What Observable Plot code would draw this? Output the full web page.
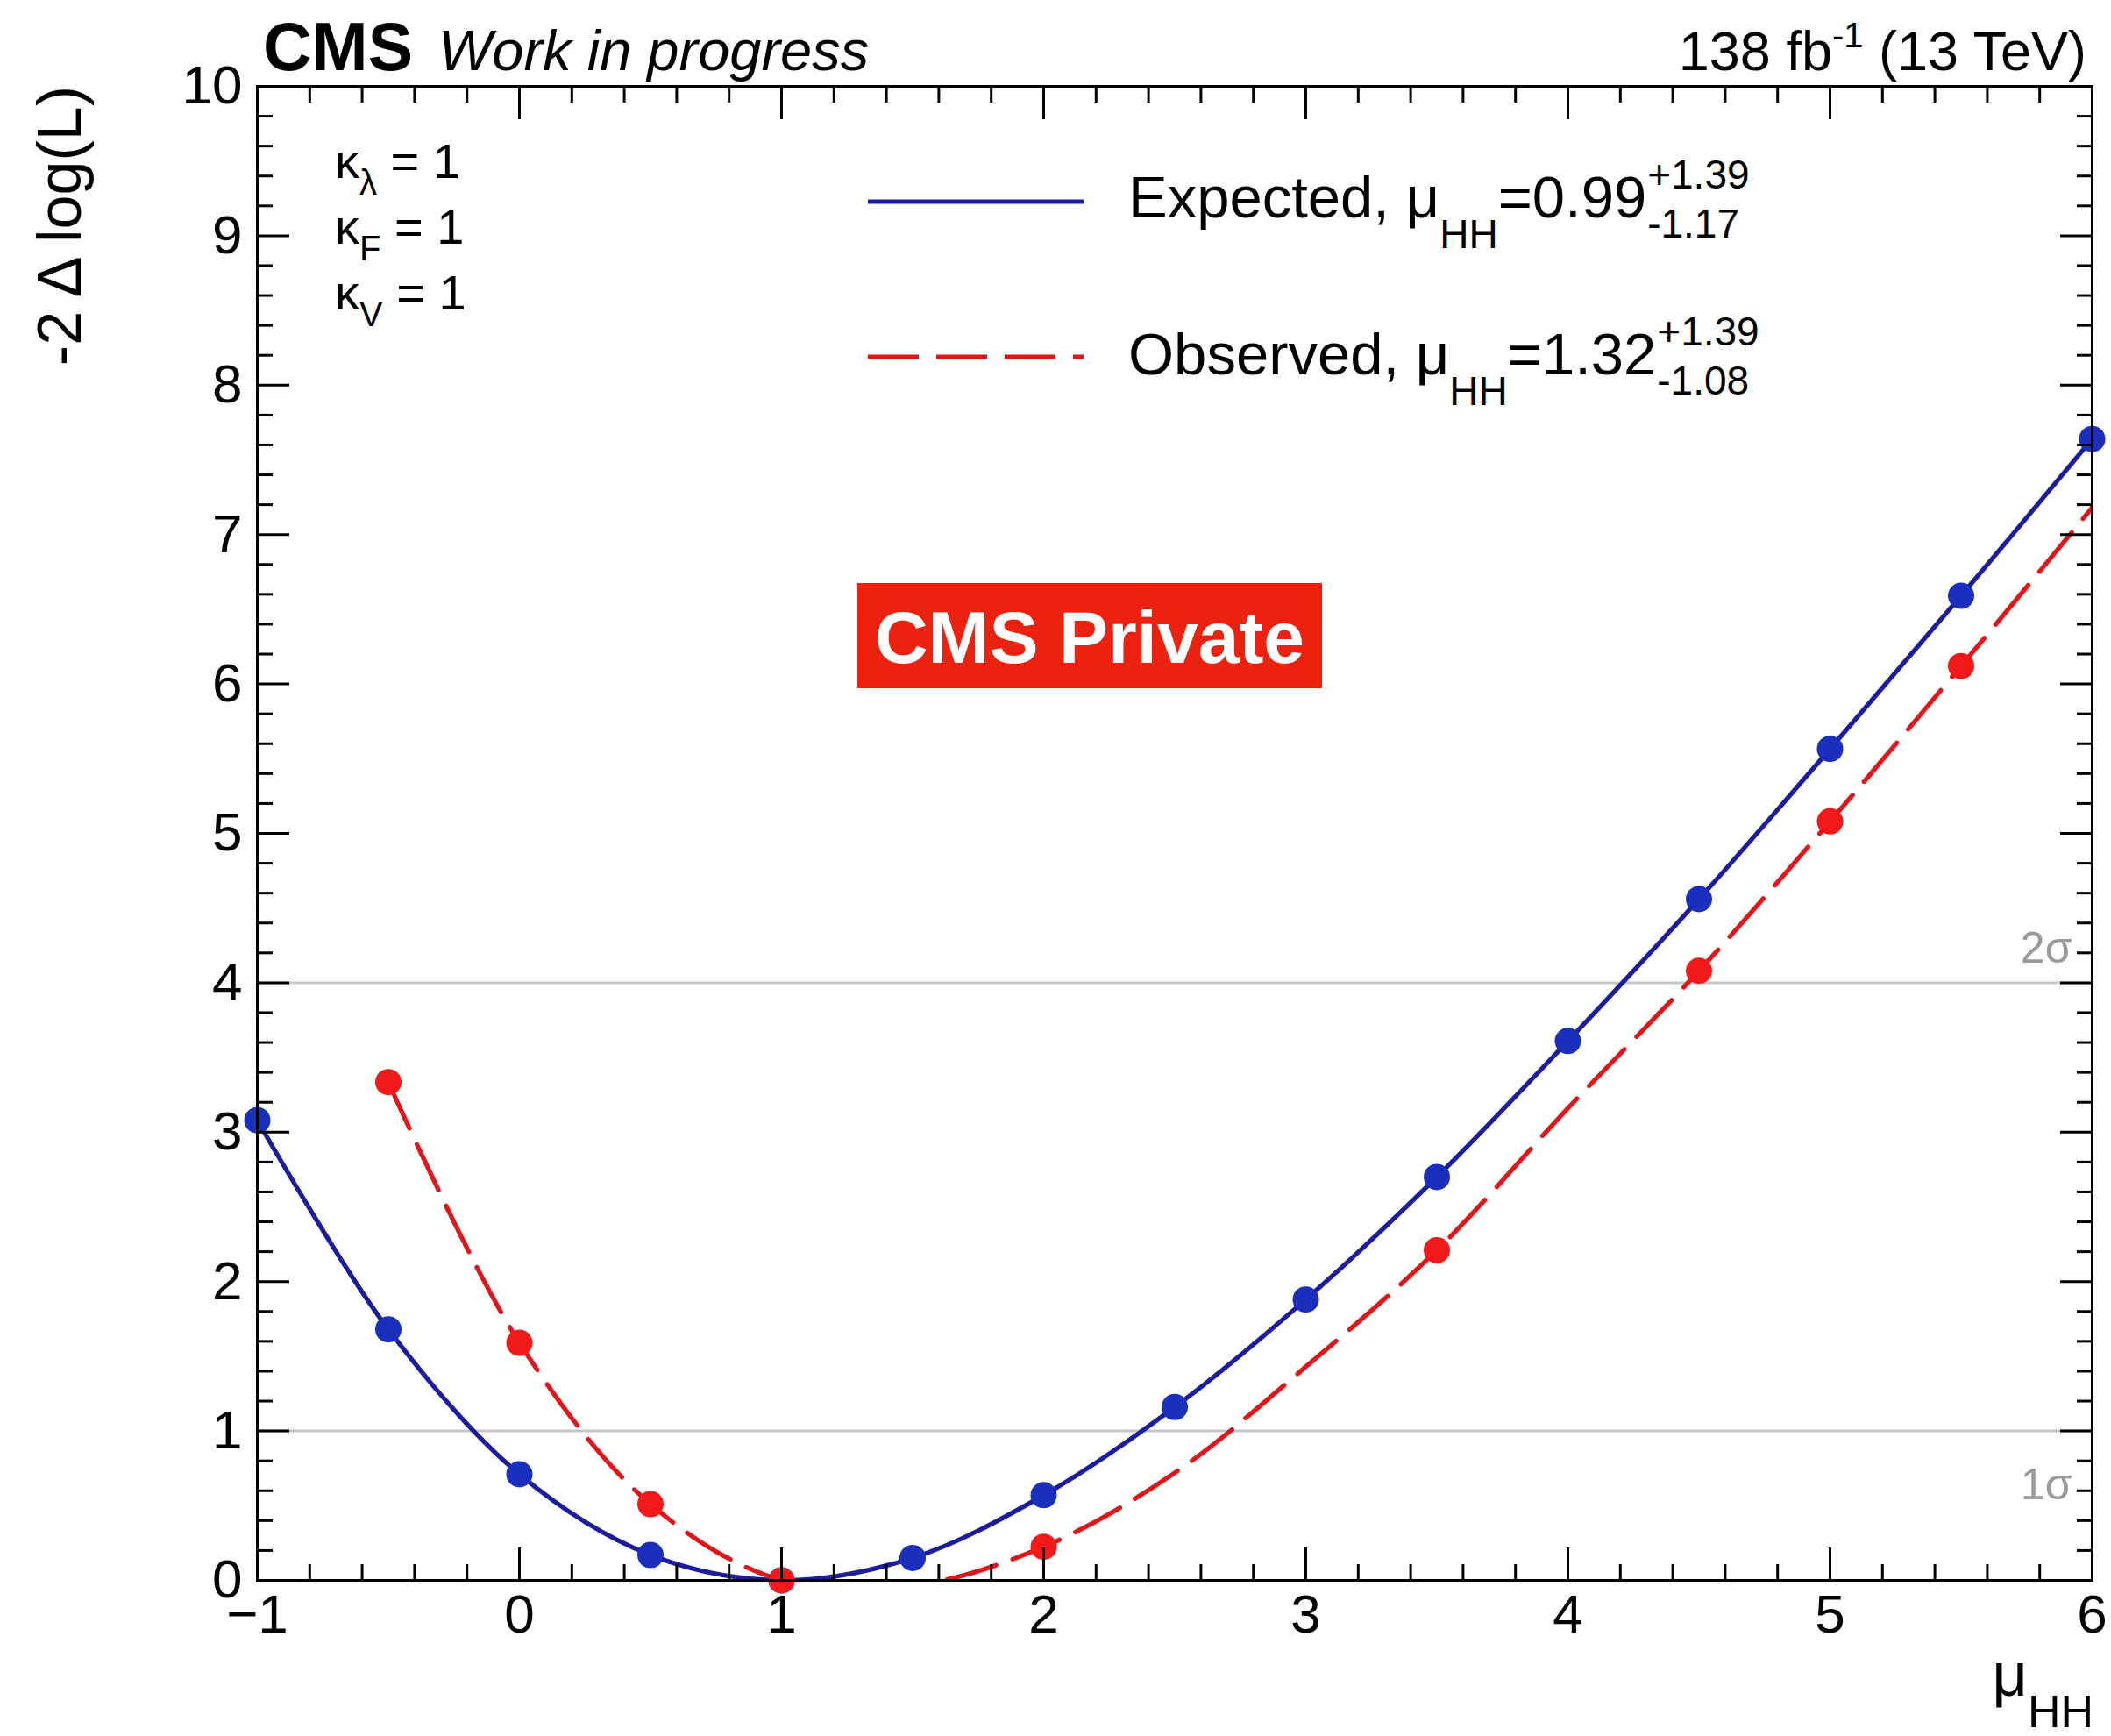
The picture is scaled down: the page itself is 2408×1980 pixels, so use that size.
<!DOCTYPE html>
<html>
<head>
<meta charset="utf-8">
<script src="https://cdn.jsdelivr.net/npm/d3@7"></script>
<script src="https://cdn.jsdelivr.net/npm/@observablehq/plot@0.6"></script>
<style>
  html, body { margin: 0; padding: 0; background: #fff; }
  #chart svg { display: block; }
</style>
</head>
<body>
<div id="chart"></div>
<script>
// Profile-likelihood scan of the HH signal strength, expected vs observed.
const muExpected = [-1, -0.5, 0, 0.5, 1, 1.5, 2, 2.5, 3, 3.5, 4, 4.5, 5, 5.5, 6];
const nllExpected = [3.08, 1.68, 0.71, 0.17, 0.0, 0.15, 0.57, 1.16, 1.88, 2.70, 3.61, 4.56, 5.565, 6.59, 7.64];

const muObserved = [-0.5, 0, 0.5, 1, 1.5, 2, 2.5, 3, 3.5, 4, 4.5, 5, 5.5, 6];
const nllObserved = [3.335, 1.59, 0.51, 0.0, -0.035, 0.225, 0.72, 1.43, 2.21, 3.16, 4.08, 5.08, 6.12, 7.18];
// scan points that carry a marker in the observed curve
const markedObserved = [true, true, true, true, false, true, false, false, true, false, true, true, true, false];

const sigmaLevels = [1, 4];
const sigmaLabels = ["1σ", "2σ"];

const xTicks = [-1, 0, 1, 2, 3, 4, 5, 6];
const yTicks = [0, 1, 2, 3, 4, 5, 6, 7, 8, 9, 10];
const xMinor = d3.range(-10, 61, 2).map(v => v / 10).filter(v => !Number.isInteger(v));
const yMinor = d3.range(0, 101, 2).map(v => v / 10).filter(v => !Number.isInteger(v));

const expected = muExpected.map((mu, i) => ({mu, nll: nllExpected[i]}));
const observed = muObserved.map((mu, i) => ({mu, nll: nllObserved[i], marked: markedObserved[i]}));

const FONT = "'Liberation Sans', Arial, Helvetica, sans-serif";
const BLUE_LINE = "#1b1d9e";
const BLUE_DOT = "#1a2fbb";
const RED_LINE = "#e0161a";
const RED_DOT = "#f01a1a";
const DASH = "58,20";
const LINE_W = 5.2;

const W = 2408, H = 1980;
const M = {top: 98, right: 22, bottom: 178, left: 293};

const majorTick = 37, minorTick = 18, tickW = 3;

const plot = Plot.plot({
  width: W,
  height: H,
  marginTop: M.top,
  marginRight: M.right,
  marginBottom: M.bottom,
  marginLeft: M.left,
  style: {fontFamily: FONT, background: "#fff", color: "#000"},
  x: {domain: [-1, 6], axis: null},
  y: {domain: [0, 10], axis: null},
  marks: [
    Plot.ruleY(sigmaLevels, {stroke: "#c6c6c6", strokeWidth: 3}),
    Plot.text(sigmaLevels.slice(0, 1), {x: () => 6, y: d => d, text: () => sigmaLabels[0], dx: -23, dy: 62, textAnchor: "end", fill: "#9a9a9a", fontSize: 50}),
    Plot.text(sigmaLevels.slice(1, 2), {x: () => 6, y: d => d, text: () => sigmaLabels[1], dx: -23, dy: -39, textAnchor: "end", fill: "#9a9a9a", fontSize: 50}),
    Plot.line(expected, {x: "mu", y: "nll", curve: "catmull-rom", stroke: BLUE_LINE, strokeWidth: LINE_W, clip: true}),
    Plot.line(observed, {x: "mu", y: "nll", curve: "catmull-rom", stroke: RED_LINE, strokeWidth: LINE_W, strokeDasharray: DASH, clip: true}),
    Plot.dot(expected, {x: "mu", y: "nll", r: 15, fill: BLUE_DOT, stroke: "none"}),
    Plot.dot(observed.filter(d => d.marked), {x: "mu", y: "nll", r: 15, fill: RED_DOT, stroke: "none"}),
    Plot.frame({stroke: "#000", strokeWidth: 3}),
    // inward ticks on all four sides
    Plot.axisX({anchor: "bottom", ticks: xTicks, tickSize: -majorTick, fill: "none", strokeWidth: tickW, label: null}),
    Plot.axisX({anchor: "bottom", ticks: xMinor, tickSize: -minorTick, fill: "none", strokeWidth: tickW, label: null}),
    Plot.axisX({anchor: "top", ticks: xTicks, tickSize: -majorTick, fill: "none", strokeWidth: tickW, label: null}),
    Plot.axisX({anchor: "top", ticks: xMinor, tickSize: -minorTick, fill: "none", strokeWidth: tickW, label: null}),
    Plot.axisY({anchor: "left", ticks: yTicks, tickSize: -majorTick, fill: "none", strokeWidth: tickW, label: null}),
    Plot.axisY({anchor: "left", ticks: yMinor, tickSize: -minorTick, fill: "none", strokeWidth: tickW, label: null}),
    Plot.axisY({anchor: "right", ticks: yTicks, tickSize: -majorTick, fill: "none", strokeWidth: tickW, label: null}),
    Plot.axisY({anchor: "right", ticks: yMinor, tickSize: -minorTick, fill: "none", strokeWidth: tickW, label: null}),
    // tick labels
    Plot.axisX({anchor: "bottom", ticks: xTicks, tickSize: 0, tickPadding: 15, fontSize: 62, label: null,
      tickFormat: d => d < 0 ? "\u2212" + (-d) : String(d)}),
    Plot.axisY({anchor: "left", ticks: yTicks, tickSize: 0, tickPadding: 17, fontSize: 62, label: null,
      tickFormat: d => String(d)})
  ]
});

document.getElementById("chart").appendChild(plot);

const svg = d3.select(plot);
const g = svg.append("g").attr("font-family", FONT).attr("fill", "#000");

// Rich text: parts are [text, fontSize, baselineOffset]
function rich(x, y, parts, anchor = "start", attrs = {}) {
  const t = g.append("text").attr("x", x).attr("y", y).attr("text-anchor", anchor);
  for (const [k, v] of Object.entries(attrs)) t.attr(k, v);
  let cur = 0;
  for (const [txt, size, off] of parts) {
    t.append("tspan").attr("font-size", size).attr("dy", (off || 0) - cur).text(txt);
    cur = off || 0;
  }
  return t;
}

// header
rich(300, 80, [["CMS", 77, 0]], "start", {"font-weight": "bold"});
rich(500, 80, [["Work in progress", 65, 0]], "start", {"font-style": "italic"});
rich(2380, 80, [["138 fb", 63, 0], ["-1", 40, -26], [" (13 TeV)", 63, 0]], "end");

// axis titles
g.append("text")
  .attr("transform", "translate(92,98) rotate(-90)")
  .attr("text-anchor", "end")
  .attr("font-size", 70)
  .text("-2 \u0394 log(L)");
rich(2388, 1934, [["\u03bc", 70, 0], ["HH", 52, 36]], "end");

// coupling assumptions
const couplings = [["\u03bb", 203], ["F", 278], ["V", 353]];
for (const [sub, base] of couplings) {
  rich(382, base, [["\u03ba", 56, 0], [sub, 40, 19], [" = 1", 56, 0]]);
}

// legend
const legendEntries = [
  {label: "Expected, ", best: "=0.99", up: "+1.39", down: "-1.17", y: 248, lineY: 230, color: BLUE_LINE, dash: null},
  {label: "Observed, ", best: "=1.32", up: "+1.39", down: "-1.08", y: 427, lineY: 407, color: RED_LINE, dash: DASH}
];
for (const e of legendEntries) {
  const ln = g.append("line")
    .attr("x1", 990).attr("x2", 1236)
    .attr("y1", e.lineY).attr("y2", e.lineY)
    .attr("stroke", e.color).attr("stroke-width", LINE_W);
  if (e.dash) ln.attr("stroke-dasharray", e.dash);
  const t = rich(1287, e.y, [[e.label + "\u03bc", 67, 0], ["HH", 46, 35], [e.best, 67, 0]]);
  const end = 1287 + t.node().getComputedTextLength() + 1;
  rich(end, e.y - 33, [[e.up, 46, 0]]);
  rich(end, e.y + 23, [[e.down, 46, 0]]);
}

// overlay stamp
g.append("rect")
  .attr("x", 978).attr("y", 665).attr("width", 530).attr("height", 120)
  .attr("fill", "#ec2210");
g.append("text")
  .attr("x", 1243).attr("y", 756)
  .attr("text-anchor", "middle")
  .attr("font-size", 84).attr("font-weight", "bold")
  .attr("fill", "#fff")
  .text("CMS Private");
</script>
</body>
</html>
